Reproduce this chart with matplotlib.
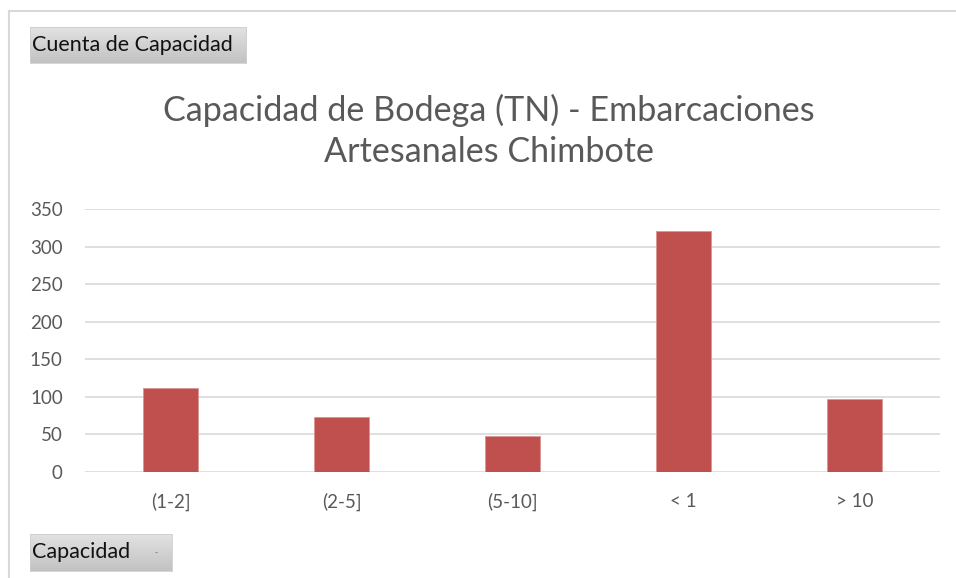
import numpy as np
import matplotlib.pyplot as plt

categorias = ["(1-2]", "(2-5]", "(5-10]", "< 1", "> 10"]
cuenta = [112, 73, 48, 321, 97]
ticks_y = [0, 50, 100, 150, 200, 250, 300, 350]

plt.rcParams['font.family'] = ['Lato', 'DejaVu Sans']

W, H = 956, 578
fig = plt.figure(figsize=(W / 100, H / 100), dpi=100)
fig.patch.set_facecolor('white')

# plot area in pixels: x 85..940, y 209..472
ax = fig.add_axes([85 / W, 1 - 472 / H, 855 / W, (472 - 209) / H])
x = range(len(categorias))
ax.bar(x, cuenta, width=0.316, color='#c0504d', edgecolor='#d99694', linewidth=0.6, zorder=3)
ax.set_xlim(-0.5, len(categorias) - 0.5)
ax.set_ylim(0, 350)
ax.set_yticks(ticks_y)
ax.set_xticks(list(x))
ax.set_xticklabels(categorias)
ax.grid(axis='y', color='#d9d9d9', linewidth=1.2, zorder=0)
for s in ax.spines.values():
    s.set_visible(False)
ax.tick_params(length=0, labelsize=13.5, labelcolor='#595959')
ax.tick_params(axis='y', pad=16)
ax.tick_params(axis='x', pad=15)

fig.text(489 / W, 1 - 131 / H, "Capacidad de Bodega (TN) - Embarcaciones\nArtesanales Chimbote",
         ha='center', va='center', fontsize=24.6, color='#595959', linespacing=1.32)

# outer border (top and left)
fig.add_artist(plt.Line2D([9 / W, 1], [1 - 11 / H, 1 - 11 / H], color='#d9d9d9', linewidth=1.5))
fig.add_artist(plt.Line2D([9 / W, 9 / W], [0, 1 - 11 / H], color='#d9d9d9', linewidth=1.5))

# pivot field buttons with a light grey gradient
grad = np.linspace(0, 1, 64).reshape(-1, 1)

def boton(x0, y0, w, h, texto, flecha=False):
    bax = fig.add_axes([x0 / W, 1 - (y0 + h) / H, w / W, h / H])
    bax.imshow(grad, cmap=plt.matplotlib.colors.LinearSegmentedColormap.from_list(
        'g', ['#e2e2e2', '#c2c2c2']), aspect='auto', extent=(0, 1, 0, 1))
    bax.set_xticks([])
    bax.set_yticks([])
    for s in bax.spines.values():
        s.set_color('#cfcfcf')
        s.set_linewidth(0.6)
    bax.text(2 / w, 0.5, texto, ha='left', va='center', fontsize=15.5, color='#111111',
             transform=bax.transAxes)
    if flecha:
        bax.text(1 - 16 / w, 0.5, "-", ha='center', va='center', fontsize=6, color='#555555',
                 transform=bax.transAxes)

boton(30, 27, 216, 36, "Cuenta de Capacidad")
boton(30, 534, 142, 37, "Capacidad", flecha=True)

fig.savefig("out.png", dpi=100, facecolor='white')
